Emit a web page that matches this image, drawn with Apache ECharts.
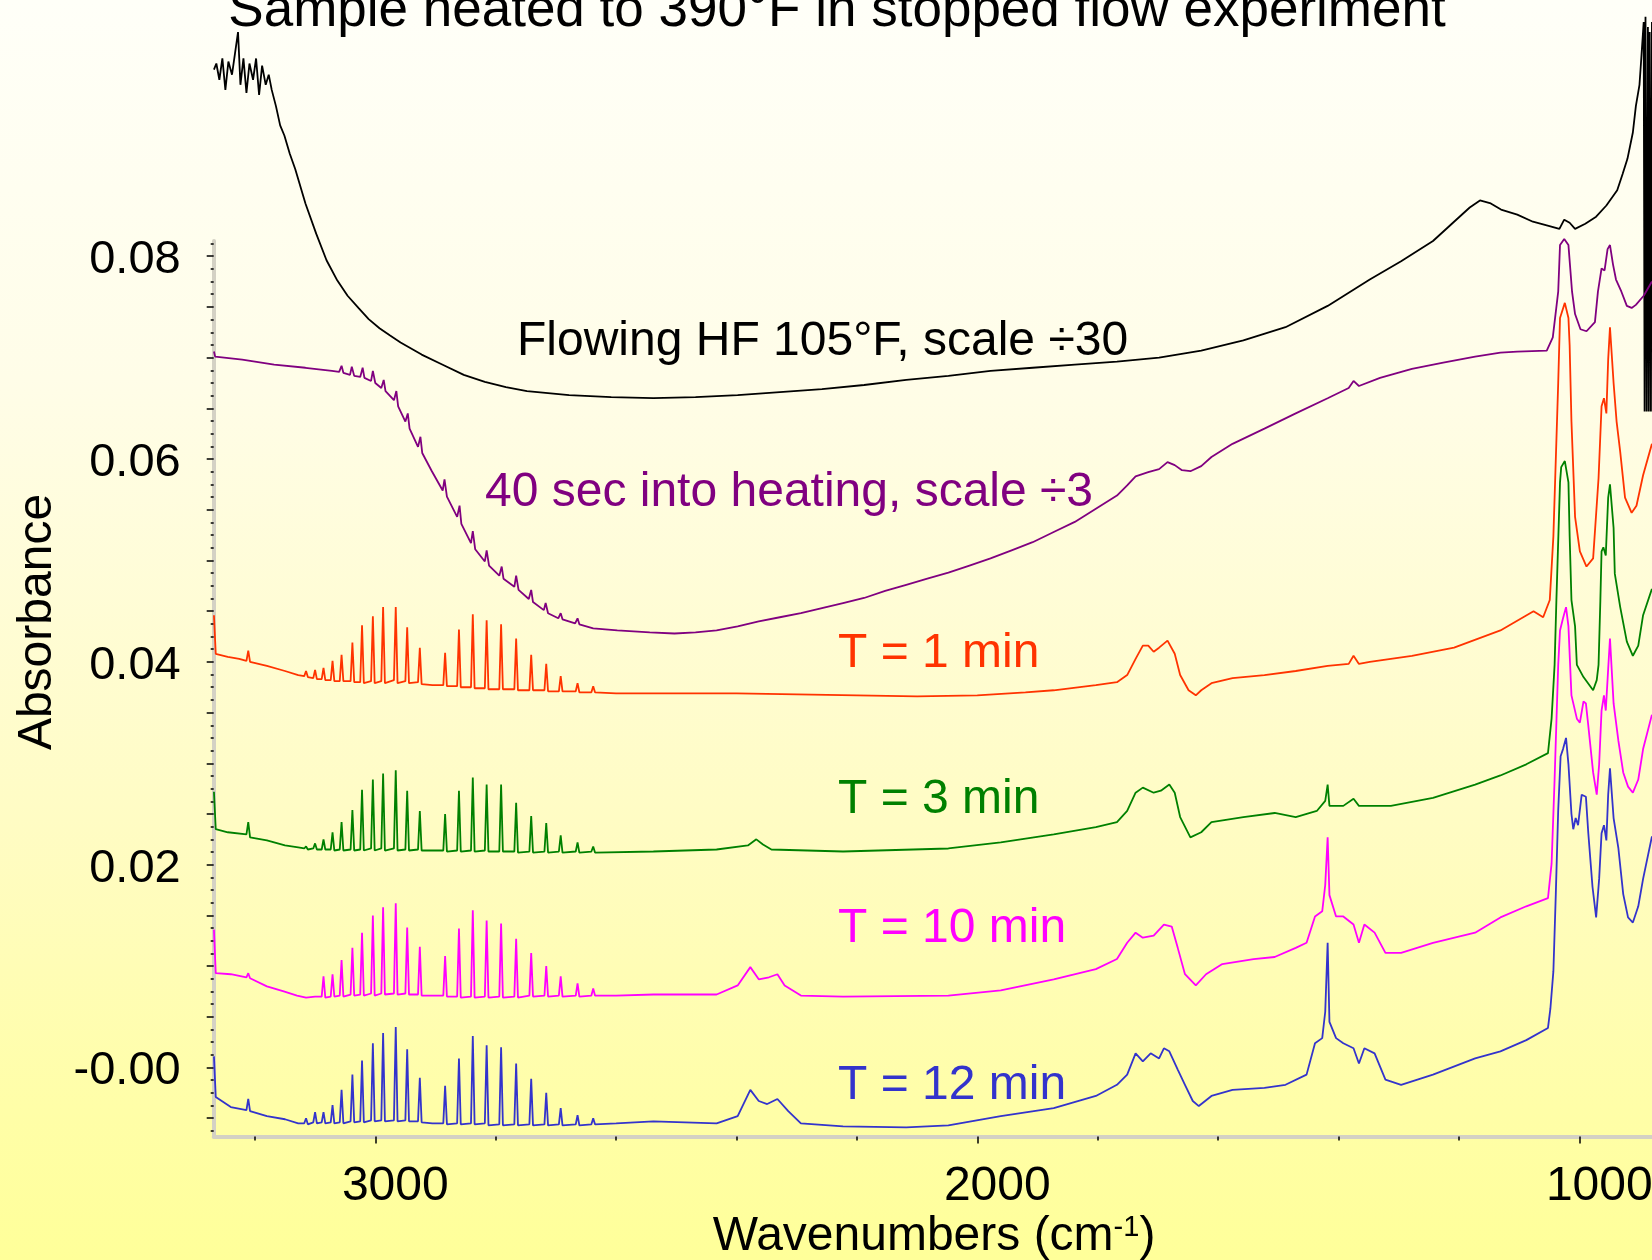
<!DOCTYPE html>
<html>
<head>
<meta charset="utf-8">
<script src="https://cdn.jsdelivr.net/npm/echarts@6/dist/echarts.min.js"></script>
<style>
html, body { margin: 0; padding: 0; }
body { background: linear-gradient(to bottom, #fffff8 0%, #fffde8 30%, #fffcc4 65%, #ffff99 100%); }
#chart { width: 1652px; height: 1260px; }
</style>
</head>
<body>
<div id="chart"></div>
<script>
// wavenumber (cm-1) / absorbance pairs
const flowingHF = [
  [3268, 0.0984], [3264, 0.0990], [3259, 0.0974], [3254, 0.0995], [3249, 0.0964], [3244, 0.0992], [3238, 0.0979],
  [3233, 0.1000], [3228, 0.1021], [3224, 0.0969], [3219, 0.0995], [3214, 0.0961], [3209, 0.0990], [3203, 0.0974],
  [3198, 0.0995], [3193, 0.0959], [3188, 0.0988], [3182, 0.0969], [3177, 0.0979], [3172, 0.0964], [3165, 0.0948],
  [3158, 0.0929], [3151, 0.0919], [3142, 0.0901], [3133, 0.0886], [3116, 0.0852], [3098, 0.0822], [3081, 0.0796],
  [3063, 0.0776], [3046, 0.0761], [3028, 0.0749], [3011, 0.0738], [2993, 0.0729], [2976, 0.0722], [2958, 0.0715],
  [2923, 0.0703], [2888, 0.0693], [2853, 0.0683], [2818, 0.0676], [2783, 0.0671], [2748, 0.0667], [2678, 0.0663],
  [2608, 0.0661], [2538, 0.0660], [2468, 0.0661], [2398, 0.0663], [2328, 0.0666], [2258, 0.0669], [2188, 0.0673],
  [2118, 0.0678], [2048, 0.0682], [1978, 0.0687], [1908, 0.0690], [1838, 0.0693], [1768, 0.0696], [1698, 0.0700],
  [1628, 0.0707], [1558, 0.0717], [1488, 0.0730], [1418, 0.0751], [1348, 0.0777], [1296, 0.0795], [1243, 0.0815],
  [1208, 0.0834], [1182, 0.0848], [1165, 0.0855], [1147, 0.0852], [1130, 0.0846], [1103, 0.0841], [1077, 0.0834],
  [1051, 0.0830], [1033, 0.0827], [1025, 0.0836], [1016, 0.0833], [1007, 0.0827], [990, 0.0832], [972, 0.0839],
  [955, 0.0850], [937, 0.0865], [928, 0.0881], [920, 0.0896], [911, 0.0922], [906, 0.0948], [900, 0.0969],
  [897, 0.0995], [893, 0.1031], [891.5, 0.0647], [890, 0.1036], [888, 0.0647], [886, 0.1026], [884.5, 0.0647],
  [883, 0.1021], [881, 0.0647], [879.3, 0.1031]
];

const heating40s = [
  [3268, 0.0706], [3266, 0.0701], [3221, 0.0698], [3168, 0.0693], [3116, 0.0690], [3072, 0.0687], [3060, 0.0686],
  [3056, 0.0692], [3053, 0.0685], [3042, 0.0683], [3039, 0.0691], [3035, 0.0682], [3025, 0.0681], [3021, 0.0690],
  [3018, 0.0680], [3007, 0.0677], [3004, 0.0687], [3000, 0.0675], [2990, 0.0670], [2986, 0.0678], [2983, 0.0667],
  [2969, 0.0658], [2965, 0.0667], [2962, 0.0652], [2950, 0.0637], [2946, 0.0645], [2943, 0.0630], [2929, 0.0612],
  [2925, 0.0622], [2922, 0.0606], [2906, 0.0588], [2888, 0.0569], [2885, 0.0580], [2881, 0.0563], [2864, 0.0543],
  [2860, 0.0554], [2857, 0.0536], [2841, 0.0517], [2838, 0.0529], [2834, 0.0511], [2818, 0.0499], [2815, 0.0510],
  [2811, 0.0495], [2794, 0.0485], [2790, 0.0494], [2787, 0.0482], [2769, 0.0474], [2766, 0.0485], [2762, 0.0471],
  [2745, 0.0462], [2741, 0.0471], [2738, 0.0459], [2720, 0.0451], [2717, 0.0458], [2713, 0.0448], [2696, 0.0443],
  [2692, 0.0448], [2689, 0.0442], [2668, 0.0438], [2664, 0.0443], [2661, 0.0437], [2638, 0.0433], [2598, 0.0431],
  [2544, 0.0429], [2503, 0.0428], [2468, 0.0429], [2433, 0.0431], [2398, 0.0435], [2363, 0.0440], [2328, 0.0444],
  [2293, 0.0448], [2258, 0.0453], [2223, 0.0458], [2188, 0.0463], [2153, 0.0470], [2118, 0.0476], [2083, 0.0482],
  [2048, 0.0488], [2013, 0.0495], [1978, 0.0502], [1943, 0.0510], [1908, 0.0518], [1873, 0.0528], [1838, 0.0538],
  [1803, 0.0551], [1768, 0.0564], [1751, 0.0574], [1737, 0.0583], [1716, 0.0587], [1698, 0.0590], [1684, 0.0597],
  [1672, 0.0594], [1660, 0.0589], [1646, 0.0588], [1628, 0.0593], [1611, 0.0602], [1576, 0.0615], [1523, 0.0630],
  [1471, 0.0645], [1418, 0.0660], [1383, 0.0670], [1375, 0.0677], [1366, 0.0672], [1331, 0.0680], [1278, 0.0689],
  [1226, 0.0695], [1173, 0.0701], [1131, 0.0705], [1103, 0.0706], [1054, 0.0707], [1044, 0.0720], [1035, 0.0765],
  [1032, 0.0811], [1025, 0.0817], [1018, 0.0811], [1012, 0.0765], [1007, 0.0743], [998, 0.0728], [988, 0.0726],
  [974, 0.0735], [969, 0.0765], [963, 0.0788], [958, 0.0786], [953, 0.0807], [949, 0.0811], [944, 0.0792],
  [939, 0.0777], [930, 0.0765], [921, 0.0751], [913, 0.0749], [906, 0.0752], [893, 0.0761], [879.3, 0.0775]
];

const t1min = [
  [3268, 0.0446], [3265, 0.0408], [3245, 0.0405], [3226, 0.0403], [3214, 0.0401], [3211, 0.0411], [3208, 0.0400],
  [3180, 0.0396], [3150, 0.0391], [3128, 0.0387],
  [3118, 0.0386], [3115, 0.0391], [3112, 0.0385], [3103, 0.0384], [3100, 0.0392], [3097, 0.0383],
  [3089, 0.0383], [3086, 0.0394], [3083, 0.0382], [3074, 0.0382], [3071, 0.0401], [3068, 0.0381],
  [3059, 0.0381], [3056, 0.0407], [3053, 0.0381], [3041, 0.0381], [3038, 0.0419], [3035, 0.0380],
  [3025, 0.0380], [3022, 0.0436], [3019, 0.0379], [3007, 0.0381], [3004, 0.0445], [3001, 0.0379],
  [2990, 0.0381], [2987, 0.0454], [2984, 0.0379], [2969, 0.0382], [2966, 0.0454], [2963, 0.0379],
  [2950, 0.0381], [2947, 0.0434], [2944, 0.0379], [2929, 0.0380], [2926, 0.0414], [2923, 0.0378],
  [2905, 0.0377],
  [2887, 0.0377], [2884, 0.0409], [2881, 0.0376], [2864, 0.0376], [2861, 0.0432], [2858, 0.0375],
  [2841, 0.0375], [2838, 0.0447], [2835, 0.0374], [2818, 0.0374], [2815, 0.0441], [2812, 0.0373],
  [2794, 0.0373], [2791, 0.0437], [2788, 0.0373], [2769, 0.0373], [2766, 0.0423], [2763, 0.0372],
  [2744, 0.0372], [2741, 0.0407], [2738, 0.0372], [2719, 0.0372], [2716, 0.0398], [2713, 0.0371],
  [2695, 0.0371], [2692, 0.0386], [2689, 0.0371], [2667, 0.0371], [2664, 0.0379], [2661, 0.0370],
  [2641, 0.0370], [2638, 0.0376], [2635, 0.0370],
  [2600, 0.0369], [2500, 0.0369], [2400, 0.0369], [2300, 0.0368], [2200, 0.0367], [2100, 0.0366], [2000, 0.0367],
  [1920, 0.0370], [1873, 0.0372], [1803, 0.0377], [1768, 0.0380], [1751, 0.0387], [1737, 0.0403], [1725, 0.0416],
  [1716, 0.0416], [1707, 0.0410], [1698, 0.0414], [1684, 0.0421], [1672, 0.0408], [1663, 0.0387], [1649, 0.0372],
  [1637, 0.0367], [1628, 0.0372], [1611, 0.0379], [1576, 0.0384], [1523, 0.0387], [1471, 0.0391], [1418, 0.0396],
  [1383, 0.0398], [1375, 0.0406], [1366, 0.0398], [1348, 0.0400], [1278, 0.0406], [1208, 0.0414], [1131, 0.0431],
  [1076, 0.0450], [1060, 0.0444], [1049, 0.0461], [1043, 0.0524], [1035, 0.0675], [1032, 0.0739], [1024, 0.0754],
  [1018, 0.0739], [1016, 0.0712], [1013, 0.0637], [1007, 0.0543], [999, 0.0509], [988, 0.0494], [977, 0.0502],
  [968, 0.0581], [963, 0.0652], [959, 0.0660], [955, 0.0645], [952, 0.0698], [949, 0.0730], [943, 0.0675],
  [938, 0.0637], [932, 0.0607], [924, 0.0562], [913, 0.0547], [905, 0.0554], [894, 0.0584], [879.3, 0.0615]
];

const t3min = [
  [3268, 0.0272], [3265, 0.0235], [3245, 0.0232], [3214, 0.0230], [3211, 0.0242], [3208, 0.0227], [3180, 0.0224],
  [3150, 0.0219], [3128, 0.0217],
  [3118, 0.0216], [3115, 0.0218], [3112, 0.0215], [3103, 0.0216], [3100, 0.0221], [3097, 0.0215],
  [3089, 0.0215], [3086, 0.0225], [3083, 0.0215], [3074, 0.0215], [3071, 0.0232], [3068, 0.0214],
  [3059, 0.0215], [3056, 0.0242], [3053, 0.0214], [3041, 0.0215], [3038, 0.0254], [3035, 0.0214],
  [3025, 0.0215], [3022, 0.0274], [3019, 0.0214], [3007, 0.0216], [3004, 0.0284], [3001, 0.0214],
  [2990, 0.0216], [2987, 0.0290], [2984, 0.0214], [2969, 0.0216], [2966, 0.0293], [2963, 0.0214],
  [2950, 0.0215], [2947, 0.0273], [2944, 0.0214], [2929, 0.0215], [2926, 0.0253], [2923, 0.0214],
  [2905, 0.0214],
  [2887, 0.0214], [2884, 0.0250], [2881, 0.0213], [2864, 0.0214], [2861, 0.0273], [2858, 0.0213],
  [2841, 0.0214], [2838, 0.0286], [2835, 0.0213], [2818, 0.0214], [2815, 0.0279], [2812, 0.0213],
  [2794, 0.0213], [2791, 0.0279], [2788, 0.0213], [2769, 0.0213], [2766, 0.0261], [2763, 0.0212],
  [2744, 0.0213], [2741, 0.0248], [2738, 0.0212], [2719, 0.0213], [2716, 0.0241], [2713, 0.0212],
  [2695, 0.0213], [2692, 0.0229], [2689, 0.0212], [2667, 0.0213], [2664, 0.0222], [2661, 0.0212],
  [2641, 0.0213], [2638, 0.0218], [2635, 0.0212],
  [2538, 0.0213], [2433, 0.0215], [2381, 0.0219], [2367, 0.0225], [2356, 0.0220], [2342, 0.0215], [2223, 0.0213],
  [2048, 0.0216], [1961, 0.0222], [1873, 0.0230], [1803, 0.0237], [1768, 0.0242], [1751, 0.0253], [1737, 0.0271],
  [1725, 0.0276], [1707, 0.0271], [1695, 0.0273], [1681, 0.0279], [1672, 0.0271], [1663, 0.0247], [1646, 0.0227],
  [1628, 0.0232], [1611, 0.0242], [1558, 0.0247], [1506, 0.0251], [1471, 0.0247], [1436, 0.0253], [1422, 0.0263],
  [1418, 0.0279], [1415, 0.0258], [1392, 0.0258], [1375, 0.0265], [1366, 0.0258], [1313, 0.0258], [1243, 0.0266],
  [1173, 0.0279], [1131, 0.0288], [1088, 0.0299], [1052, 0.0310], [1046, 0.0344], [1041, 0.0397], [1038, 0.0461],
  [1032, 0.0577], [1030, 0.0592], [1024, 0.0598], [1018, 0.0577], [1016, 0.0524], [1013, 0.0461], [1007, 0.0435],
  [1004, 0.0397], [993, 0.0385], [977, 0.0372], [971, 0.0382], [968, 0.0397], [965, 0.0460], [963, 0.0509],
  [960, 0.0513], [956, 0.0505], [952, 0.0562], [949, 0.0575], [943, 0.0532], [941, 0.0487], [932, 0.0454],
  [921, 0.0420], [911, 0.0406], [902, 0.0416], [894, 0.0446], [879.3, 0.0472]
];

const t10min = [
  [3268, 0.0136], [3265, 0.0093], [3240, 0.0092], [3214, 0.0089], [3211, 0.0093], [3208, 0.0088], [3180, 0.0080],
  [3152, 0.0075], [3130, 0.0071], [3115, 0.0069], [3100, 0.0070],
  [3089, 0.0070], [3086, 0.0090], [3083, 0.0069], [3074, 0.0070], [3071, 0.0092], [3068, 0.0070],
  [3059, 0.0071], [3056, 0.0106], [3053, 0.0070], [3041, 0.0072], [3038, 0.0118], [3035, 0.0071],
  [3025, 0.0072], [3022, 0.0133], [3019, 0.0071], [3007, 0.0073], [3004, 0.0150], [3001, 0.0071],
  [2990, 0.0073], [2987, 0.0158], [2984, 0.0072], [2969, 0.0073], [2966, 0.0162], [2963, 0.0072],
  [2950, 0.0073], [2947, 0.0138], [2944, 0.0072], [2929, 0.0072], [2926, 0.0119], [2923, 0.0071],
  [2905, 0.0071],
  [2887, 0.0071], [2884, 0.0110], [2881, 0.0070], [2864, 0.0070], [2861, 0.0137], [2858, 0.0069],
  [2841, 0.0070], [2838, 0.0155], [2835, 0.0069], [2818, 0.0070], [2815, 0.0145], [2812, 0.0069],
  [2794, 0.0070], [2791, 0.0142], [2788, 0.0069], [2769, 0.0070], [2766, 0.0127], [2763, 0.0069],
  [2744, 0.0071], [2741, 0.0113], [2738, 0.0070], [2719, 0.0071], [2716, 0.0100], [2713, 0.0070],
  [2695, 0.0071], [2692, 0.0090], [2689, 0.0070], [2667, 0.0071], [2664, 0.0083], [2661, 0.0070],
  [2641, 0.0071], [2638, 0.0078], [2635, 0.0071],
  [2600, 0.0071], [2538, 0.0072], [2433, 0.0072], [2398, 0.0081], [2377, 0.0099], [2363, 0.0087], [2346, 0.0089],
  [2332, 0.0092], [2320, 0.0081], [2293, 0.0071], [2223, 0.0070], [2048, 0.0071], [1961, 0.0076], [1873, 0.0087],
  [1803, 0.0097], [1768, 0.0107], [1751, 0.0123], [1737, 0.0133], [1725, 0.0128], [1707, 0.0130], [1690, 0.0141],
  [1677, 0.0139], [1667, 0.0118], [1655, 0.0092], [1637, 0.0081], [1620, 0.0092], [1593, 0.0102], [1541, 0.0107],
  [1506, 0.0109], [1471, 0.0118], [1453, 0.0123], [1439, 0.0149], [1427, 0.0154], [1422, 0.0180], [1418, 0.0227],
  [1415, 0.0170], [1404, 0.0149], [1392, 0.0149], [1375, 0.0141], [1366, 0.0123], [1357, 0.0141], [1340, 0.0133],
  [1322, 0.0113], [1296, 0.0113], [1243, 0.0123], [1173, 0.0133], [1131, 0.0148], [1088, 0.0159], [1052, 0.0167],
  [1046, 0.0201], [1041, 0.0284], [1035, 0.0397], [1032, 0.0431], [1027, 0.0443], [1022, 0.0454], [1018, 0.0435],
  [1013, 0.0367], [1004, 0.0344], [999, 0.0340], [993, 0.0361], [989, 0.0359], [985, 0.0337], [977, 0.0291],
  [971, 0.0269], [967, 0.0299], [963, 0.0352], [959, 0.0367], [956, 0.0352], [952, 0.0393], [949, 0.0423],
  [943, 0.0359], [935, 0.0322], [927, 0.0291], [919, 0.0277], [911, 0.0271], [902, 0.0284], [894, 0.0314],
  [879.3, 0.0348]
];

const t12min = [
  [3268, 0.0011], [3265, -0.0029], [3240, -0.0039], [3214, -0.0042], [3211, -0.0031], [3208, -0.0043], [3180, -0.0048],
  [3150, -0.0051], [3128, -0.0055],
  [3118, -0.0055], [3115, -0.0050], [3112, -0.0056], [3103, -0.0054], [3100, -0.0044], [3097, -0.0055],
  [3089, -0.0054], [3086, -0.0044], [3083, -0.0055], [3074, -0.0054], [3071, -0.0037], [3068, -0.0055],
  [3059, -0.0054], [3056, -0.0022], [3053, -0.0055], [3041, -0.0053], [3038, -0.0007], [3035, -0.0054],
  [3025, -0.0053], [3022, 0.0007], [3019, -0.0054], [3007, -0.0052], [3004, 0.0024], [3001, -0.0053],
  [2990, -0.0052], [2987, 0.0034], [2984, -0.0053], [2969, -0.0052], [2966, 0.0040], [2963, -0.0053],
  [2950, -0.0052], [2947, 0.0018], [2944, -0.0053], [2929, -0.0053], [2926, -0.0010], [2923, -0.0054],
  [2905, -0.0055],
  [2887, -0.0055], [2884, -0.0018], [2881, -0.0056], [2864, -0.0055], [2861, 0.0009], [2858, -0.0056],
  [2841, -0.0055], [2838, 0.0031], [2835, -0.0056], [2818, -0.0055], [2815, 0.0022], [2812, -0.0057],
  [2794, -0.0056], [2791, 0.0020], [2788, -0.0057], [2769, -0.0056], [2766, 0.0004], [2763, -0.0057],
  [2744, -0.0056], [2741, -0.0011], [2738, -0.0057], [2719, -0.0056], [2716, -0.0025], [2713, -0.0057],
  [2695, -0.0056], [2692, -0.0040], [2689, -0.0057], [2667, -0.0056], [2664, -0.0047], [2661, -0.0057],
  [2641, -0.0056], [2638, -0.0050], [2635, -0.0056],
  [2600, -0.0055], [2538, -0.0053], [2433, -0.0055], [2398, -0.0048], [2377, -0.0022], [2363, -0.0033],
  [2349, -0.0036], [2332, -0.0031], [2314, -0.0043], [2293, -0.0055], [2223, -0.0058], [2118, -0.0059],
  [2048, -0.0057], [1961, -0.0048], [1873, -0.0040], [1803, -0.0028], [1768, -0.0017], [1751, -0.0007],
  [1737, 0.0014], [1725, 0.0006], [1712, 0.0014], [1698, 0.0009], [1690, 0.0019], [1681, 0.0016], [1667, -0.0002],
  [1655, -0.0017], [1642, -0.0033], [1632, -0.0038], [1611, -0.0028], [1576, -0.0022], [1523, -0.0020],
  [1488, -0.0017], [1453, -0.0007], [1439, 0.0024], [1427, 0.0029], [1422, 0.0055], [1418, 0.0123], [1415, 0.0045],
  [1404, 0.0029], [1392, 0.0024], [1375, 0.0019], [1366, 0.0004], [1357, 0.0019], [1340, 0.0014], [1322, -0.0012],
  [1296, -0.0017], [1243, -0.0007], [1173, 0.0009], [1131, 0.0016], [1088, 0.0027], [1052, 0.0039], [1048, 0.0058],
  [1043, 0.0095], [1039, 0.0171], [1035, 0.0254], [1031, 0.0307], [1027, 0.0314], [1022, 0.0325], [1018, 0.0299],
  [1013, 0.0250], [1010, 0.0235], [1006, 0.0246], [1002, 0.0239], [996, 0.0269], [989, 0.0267], [985, 0.0231],
  [978, 0.0178], [972, 0.0148], [967, 0.0186], [963, 0.0231], [959, 0.0239], [955, 0.0224], [952, 0.0269],
  [949, 0.0295], [943, 0.0246], [935, 0.0216], [927, 0.0171], [919, 0.0148], [911, 0.0143], [902, 0.0159],
  [894, 0.0186], [879.3, 0.0228]
];

const seriesNames = ['Flowing HF 105\u00b0F, scale \u00f730', '40 sec into heating, scale \u00f73',
  'T = 1 min', 'T = 3 min', 'T = 10 min', 'T = 12 min'];
const seriesColors = ['#000000', '#800080', '#ff3300', '#008000', '#ff00ff', '#3333cc'];
const seriesData = [flowingHF, heating40s, t1min, t3min, t10min, t12min];

const xTickValues = [1000, 1200, 1400, 1600, 1800, 2000, 2200, 2400, 2600, 2800, 3000, 3200];
const xLabelValues = [1000, 2000, 3000];
const yMajorTicks = [-0.005, 0, 0.005, 0.01, 0.015, 0.02, 0.025, 0.03, 0.035, 0.04, 0.045,
  0.05, 0.055, 0.06, 0.065, 0.07, 0.075, 0.08];
const yLabelValues = [0, 0.02, 0.04, 0.06, 0.08];
const yLabelTexts = ['-0.00', '0.02', '0.04', '0.06', '0.08'];
const yMinorTicks = [];
for (let i = -5; i <= 65; i++) {
  yMinorTicks.push(i * 0.00125);
}

const FONT = '"Liberation Sans", Arial, Helvetica, sans-serif';
const AXIS_GRAY = '#d4d1c4';
const LINE_W = 1.8;

const chart = echarts.init(document.getElementById('chart'));

const xRange = { min: 879.2, max: 3268.4 };
const yRange = { min: -0.0068, max: 0.0815 };

const option = {
  backgroundColor: 'transparent',
  animation: false,
  grid: { left: 213.7, right: 0, top: 241, bottom: 123.5, outerBoundsMode: 'none' },
  xAxis: [{
    type: 'value', inverse: true, min: xRange.min, max: xRange.max, position: 'bottom',
    splitLine: { show: false },
    axisLine: { show: true, onZero: false, lineStyle: { color: AXIS_GRAY, width: 4 } },
    axisTick: { show: true, customValues: xTickValues, length: 4, lineStyle: { color: '#000', width: 1.5 } },
    axisLabel: { show: false }
  }, {
    type: 'value', inverse: true, min: xRange.min, max: xRange.max, position: 'bottom',
    splitLine: { show: false },
    axisLine: { show: false, onZero: false },
    axisTick: { show: true, customValues: xLabelValues, length: 7, lineStyle: { color: '#000', width: 1.5 } },
    axisLabel: {
      show: true, customValues: xLabelValues, margin: 26, padding: [0, 0, 0, 40],
      fontSize: 48, fontFamily: FONT, color: '#000', formatter: v => String(v)
    }
  }],
  yAxis: [{
    type: 'value', min: yRange.min, max: yRange.max, position: 'left',
    splitLine: { show: false },
    axisLine: { show: true, onZero: false, lineStyle: { color: AXIS_GRAY, width: 4 } },
    axisTick: { show: true, customValues: yMajorTicks, length: 7, lineStyle: { color: '#000', width: 1.5 } },
    axisLabel: {
      show: true, customValues: yLabelValues, margin: 33, verticalAlign: 'top', lineHeight: 8,
      fontSize: 47, fontFamily: FONT, color: '#000',
      formatter: v => yLabelTexts[yLabelValues.findIndex(t => Math.abs(t - v) < 1e-9)]
    }
  }, {
    type: 'value', min: yRange.min, max: yRange.max, position: 'left',
    splitLine: { show: false },
    axisLine: { show: false, onZero: false },
    axisTick: { show: true, customValues: yMinorTicks, length: 3, lineStyle: { color: '#000', width: 1.5 } },
    axisLabel: { show: false }
  }],
  series: seriesData.map((d, i) => ({
    name: seriesNames[i],
    type: 'line',
    xAxisIndex: 0,
    yAxisIndex: 0,
    data: d,
    clip: false,
    showSymbol: false,
    symbol: 'none',
    smooth: false,
    lineStyle: { color: seriesColors[i], width: LINE_W },
    z: 3
  })),
  graphic: [
    { type: 'text', x: 837, y: 11, style: { text: 'Sample heated to 390\u00b0F in stopped flow experiment',
      fontSize: 53, fontFamily: FONT, fill: '#000', align: 'center', verticalAlign: 'middle' } },
    { type: 'text', x: 517, y: 342, style: { text: seriesNames[0],
      fontSize: 48, fontFamily: FONT, fill: seriesColors[0], align: 'left', verticalAlign: 'middle' } },
    { type: 'text', x: 485, y: 493, style: { text: seriesNames[1],
      fontSize: 48, fontFamily: FONT, fill: seriesColors[1], align: 'left', verticalAlign: 'middle' } },
    { type: 'text', x: 838, y: 654, style: { text: seriesNames[2],
      fontSize: 48, fontFamily: FONT, fill: seriesColors[2], align: 'left', verticalAlign: 'middle' } },
    { type: 'text', x: 838, y: 800, style: { text: seriesNames[3],
      fontSize: 48, fontFamily: FONT, fill: seriesColors[3], align: 'left', verticalAlign: 'middle' } },
    { type: 'text', x: 838, y: 929, style: { text: seriesNames[4],
      fontSize: 48, fontFamily: FONT, fill: seriesColors[4], align: 'left', verticalAlign: 'middle' } },
    { type: 'text', x: 838, y: 1086, style: { text: seriesNames[5],
      fontSize: 48, fontFamily: FONT, fill: seriesColors[5], align: 'left', verticalAlign: 'middle' } },
    { type: 'text', x: 38, y: 622, rotation: Math.PI / 2, style: { text: 'Absorbance',
      fontSize: 48, fontFamily: FONT, fill: '#000', align: 'center', verticalAlign: 'middle' } },
    { type: 'text', x: 934, y: 1237, style: {
      text: '{n|Wavenumbers (cm}{s|-1}{n|)}',
      align: 'center', verticalAlign: 'middle',
      rich: {
        n: { fontSize: 48, fontFamily: FONT, fill: '#000' },
        s: { fontSize: 29, fontFamily: FONT, fill: '#000', verticalAlign: 'top' }
      }
    } }
  ]
};

chart.setOption(option);
</script>
</body>
</html>
